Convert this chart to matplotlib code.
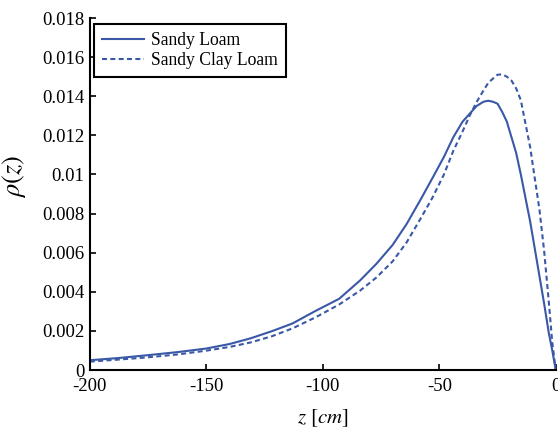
import matplotlib
matplotlib.use("Agg")
import matplotlib.pyplot as plt

# depth (cm) and density values
z = [-200, -187, -175, -162, -150, -140, -131, -122, -113, -103, -93, -84,
     -77, -70, -64, -58, -53, -48, -44, -40, -37, -34, -31, -29, -27, -25,
     -23, -21, -19, -17, -15, -13, -11, -9, -7, -5, -3, -1.5, 0]
sandy_loam = [0.00050, 0.00062, 0.00076, 0.00092, 0.00110, 0.00133, 0.00162,
              0.00198, 0.00238, 0.00303, 0.00364, 0.00458, 0.00543, 0.00640,
              0.00747, 0.00872, 0.0098, 0.0109, 0.0119, 0.0127, 0.0131,
              0.0135, 0.01372, 0.01377, 0.01372, 0.01362, 0.0132, 0.0127,
              0.0119, 0.0111, 0.0100, 0.0088, 0.0076, 0.0062, 0.0048,
              0.0034, 0.0019, 0.0010, 0.0]
sandy_clay_loam = [0.00043, 0.00054, 0.00065, 0.00080, 0.00099, 0.00118,
                   0.00141, 0.00172, 0.00213, 0.00270, 0.00335, 0.00406,
                   0.00473, 0.00556, 0.00653, 0.00775, 0.0088, 0.0100,
                   0.0112, 0.0122, 0.0130, 0.0137, 0.0143, 0.01468, 0.0149,
                   0.0151, 0.01512, 0.0150, 0.0148, 0.0144, 0.0138, 0.0126,
                   0.0114, 0.0098, 0.0082, 0.0061, 0.0035, 0.0014, 0.0]

xticks = [-200, -150, -100, -50, 0]
yticks = [0, 0.002, 0.004, 0.006, 0.008, 0.01, 0.012, 0.014, 0.016, 0.018]
ytick_labels = ["0", "0.002", "0.004", "0.006", "0.008", "0.01", "0.012",
                "0.014", "0.016", "0.018"]

plt.rcParams["font.family"] = ["Liberation Serif", "DejaVu Serif"]
plt.rcParams["mathtext.fontset"] = "stix"
plt.rcParams["axes.unicode_minus"] = False

color = "#3a58a8"
fig = plt.figure(figsize=(5.58, 4.29), dpi=100)
ax = fig.add_axes([0.161, 0.1375, 0.835, 0.8205])

ax.plot(z, sandy_loam, color=color, lw=1.5, label="Sandy Loam")
ax.plot(z, sandy_clay_loam, color=color, lw=1.5, ls="--", dashes=(2.4, 1.6),
        label="Sandy Clay Loam")

ax.set_xlim(-200, 0)
ax.set_ylim(0, 0.018)
ax.set_xticks(xticks)
ax.set_xticklabels([str(t) for t in xticks])
ax.set_yticks(yticks)
ax.set_yticklabels(ytick_labels)
ax.tick_params(direction="in", length=4, width=1.2, labelsize=13.5)
ax.tick_params(axis="y", pad=4)
ax.tick_params(axis="x", pad=6)
for side in ("top", "right"):
    ax.spines[side].set_visible(False)
for side in ("left", "bottom"):
    ax.spines[side].set_linewidth(1.5)

ax.set_xlabel(r"$z\ [cm]$", fontsize=15, labelpad=8.5)
ax.set_ylabel(r"$\rho(z)$", fontsize=19)
ax.yaxis.set_label_coords(-0.133, 0.551)

leg = ax.legend(loc="upper left", bbox_to_anchor=(0.0086, 0.983),
                fontsize=12.7, fancybox=False, framealpha=1,
                edgecolor="black", handlelength=2.4, borderpad=0.45,
                labelspacing=0.2, handletextpad=0.4, borderaxespad=0)
leg.get_frame().set_linewidth(1.5)

fig.savefig("out.png", dpi=100)
